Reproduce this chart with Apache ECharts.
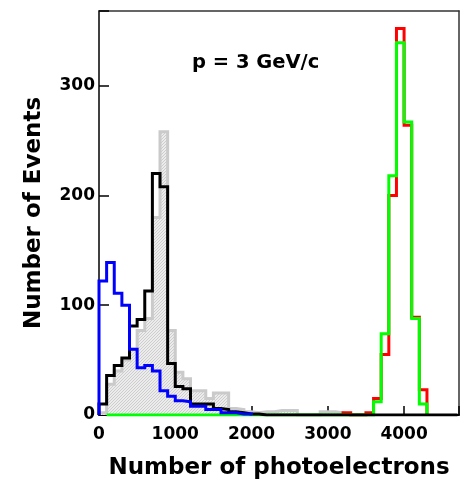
<!DOCTYPE html>
<html>
<head>
<meta charset="utf-8">
<script src="https://cdn.jsdelivr.net/npm/echarts@6/dist/echarts.min.js"></script>
<style>
  html, body { margin: 0; padding: 0; background: #fff; }
  #chart { width: 462px; height: 487px; }
</style>
</head>
<body>
<div id="chart"></div>
<script>
// Histogram bin width (photoelectrons)
const BIN = 100;

// Bin contents, each array starts at the given lower edge
const grayStart = 0;
const grayCounts = [2, 28, 40, 50, 60, 77, 88, 180, 258, 77, 39, 33, 22, 22, 15, 20, 20, 6, 5, 3,
                    2, 3, 3, 4, 4, 4, 0, 0, 0, 3, 3, 2];

const blackStart = 0;
const blackCounts = [10, 36, 45, 52, 81, 87, 113, 220, 208, 47, 26, 24, 10, 10, 10, 6, 5, 3, 2, 1,
                     1, 0, 0, 0, 0, 0, 0, 0, 0, 0, 0, 0, 0, 0, 0, 0, 0, 0, 0, 0,
                     0, 0, 0, 0, 0, 0, 0];

const blueStart = 0;
const blueCounts = [122, 139, 111, 100, 60, 43, 45, 40, 22, 17, 13, 12, 8, 8, 5, 5, 2, 2, 1, 1];

const redStart = 3200;
const redCounts = [2, 0, 0, 2, 15, 55, 200, 352, 264, 89, 23];

const greenStart = 100;
const greenCounts = [0, 0, 0, 0, 0, 0, 0, 0, 0, 0, 0, 0, 0, 0, 0, 0, 0, 0, 0, 0,
                     0, 0, 0, 0, 0, 0, 0, 0, 0, 0, 0, 0, 0, 0, 0, 12, 74, 218, 339, 267,
                     88, 10];

// Axis tick labels
const xTickLabels = [0, 1000, 2000, 3000, 4000];
const yTickLabels = [0, 100, 200, 300];

// Turn bin contents into outline points for a step line
function outline(start, counts) {
  const pts = [[start, 0]];
  counts.forEach((c, i) => pts.push([start + i * BIN, c]));
  pts.push([start + counts.length * BIN, 0]);
  return pts;
}

// Fine dotted texture for the filled histogram
function dotPattern() {
  const c = document.createElement('canvas');
  c.width = 3; c.height = 3;
  const g = c.getContext('2d');
  g.fillStyle = '#ececec'; g.fillRect(0, 0, 3, 3);
  g.fillStyle = '#cdcdcd'; g.fillRect(0, 0, 1, 1); g.fillRect(1, 2, 1, 1); g.fillRect(2, 1, 1, 1);
  return c;
}

const FONT = 'DejaVu Sans';
const chart = echarts.init(document.getElementById('chart'), null, { renderer: 'canvas' });

function hist(name, start, counts, color, z, fill) {
  const s = {
    name, type: 'line', step: 'end', z,
    data: outline(start, counts),
    showSymbol: false, symbol: 'none',
    lineStyle: { color, width: 3, join: 'miter' },
    clip: true,
    animation: false
  };
  if (fill) s.areaStyle = { color: fill, opacity: 1 };
  return s;
}

const labelStyle = { color: '#000', fontFamily: FONT, fontWeight: 'bold', fontSize: 17 };
const titleStyle = { color: '#000', fontFamily: FONT, fontWeight: 'bold', fontSize: 23 };

// Frame edges on the top and right sides
const frameX = {
  type: 'value', position: 'top', min: 0, max: 4720,
  axisLine: { show: true, onZero: false, lineStyle: { color: '#333', width: 1.5 } },
  axisTick: { show: false }, axisLabel: { show: false }, splitLine: { show: false }
};
const frameY = {
  type: 'value', position: 'right', min: 0, max: 368,
  axisLine: { show: true, onZero: false, lineStyle: { color: '#333', width: 1.5 } },
  axisTick: { show: false }, axisLabel: { show: false }, splitLine: { show: false }
};

chart.setOption({
  animation: false,
  grid: { left: 99, right: 3, top: 11, bottom: 72 },
  xAxis: [{
    type: 'value', min: 0, max: 4720, interval: 1000,
    axisLine: { lineStyle: { color: '#000', width: 2 } },
    axisTick: { inside: true, length: 9, lineStyle: { color: '#000', width: 1.5 } },
    splitLine: { show: false },
    axisLabel: Object.assign({ margin: 11, formatter: v => (xTickLabels.includes(v) ? String(v) : '') }, labelStyle),
    name: 'Number of photoelectrons', nameLocation: 'middle', nameGap: 42,
    nameTextStyle: titleStyle
  }, frameX],
  yAxis: [{
    type: 'value', min: 0, max: 368, interval: 100,
    axisLine: { show: true, lineStyle: { color: '#000', width: 1.5 } },
    axisTick: { show: true, inside: true, length: 10, lineStyle: { color: '#000', width: 1.5 } },
    splitLine: { show: false },
    axisLabel: Object.assign({ margin: 4, formatter: v => (yTickLabels.includes(v) ? String(v) : '') }, labelStyle),
    name: 'Number of Events', nameLocation: 'middle', nameGap: 53, nameRotate: 90,
    nameTextStyle: titleStyle
  }, frameY],
  graphic: [{
    type: 'text', left: 192, top: 53, z: 10,
    style: { text: 'p = 3 GeV/c', fill: '#000', font: 'bold 19.5px "DejaVu Sans"' }
  }],
  series: [
    hist('gray', grayStart, grayCounts, '#cacaca', 1, { image: dotPattern(), repeat: 'repeat' }),
    hist('red', redStart, redCounts, '#ff0000', 2),
    hist('green', greenStart, greenCounts, '#00ff00', 3),
    hist('black', blackStart, blackCounts, '#000000', 4),
    hist('blue', blueStart, blueCounts, '#0000ff', 5)
  ]
});
</script>
</body>
</html>
